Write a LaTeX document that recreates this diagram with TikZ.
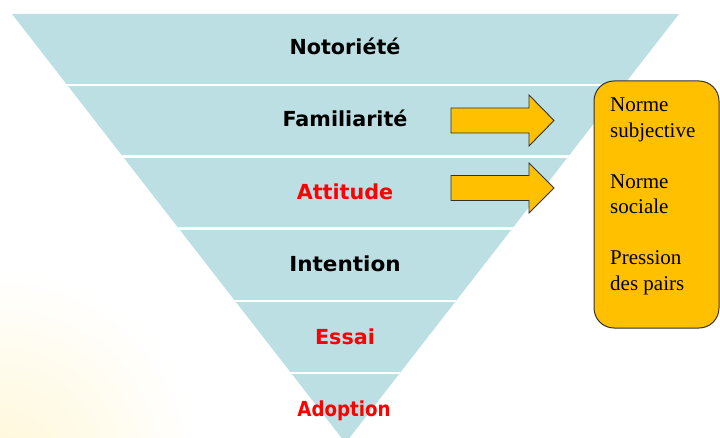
\documentclass[tikz,border=0pt]{standalone}
\usepackage{fontspec}
\setmainfont{Liberation Serif}
\newfontfamily\lblfont{DejaVu Sans}
\definecolor{funnel}{RGB}{187,223,227}
\definecolor{amber}{RGB}{255,192,0}
\definecolor{edge}{RGB}{50,50,50}
\definecolor{bgyellow}{RGB}{255,247,215}
\definecolor{hotred}{RGB}{255,0,0}
\begin{document}
\begin{tikzpicture}[x=1pt,y=-1pt,
  lvl/.style={font=\lblfont\bfseries\fontsize{20.7}{24}\selectfont, anchor=base, inner sep=0pt},
  redlvl/.style={lvl, text=hotred},
  sepline/.style={white, line width=2.5pt},
  barrow/.style={fill=amber, draw=edge, line width=0.9pt, line join=miter},
  normbox/.style={draw=edge, fill=amber, line width=1pt, rounded corners=20pt, anchor=north west, inner sep=0pt},
  normtext/.style={font=\fontsize{21}{25}\selectfont, anchor=base west, inner sep=0pt}
]
\useasboundingbox (0,0) rectangle (720,438);
\fill[white] (0,0) rectangle (720,438);
\begin{scope}
  \clip (0,0) rectangle (720,438);
  \shade[inner color=bgyellow, outer color=white] (0,470) circle (200);
  \fill[funnel] (12,14) -- (679,14) -- (345.5,443) -- cycle;
  \clip (12,14) -- (679,14) -- (345.5,443) -- cycle;
  \foreach \yy in {85,156.5,228.5,301,373}
    \draw[sepline] (0,\yy) -- (720,\yy);
\end{scope}

\node[lvl] (notoriete) at (345,55) {Notoriété};
\node[lvl] (familiarite) at (345,127) {Familiarité};
\node[redlvl] (attitude) at (345,200) {Attitude};
\node[lvl] (intention) at (345,272) {\scalebox{1.04}[1]{Intention}};
\node[redlvl] (essai) at (345,344) {Essai};
\node[redlvl] (adoption) at (344,416) {\scalebox{0.88}[1]{Adoption}};

\draw[barrow] (451,108) -- (529,108) -- (529,95) -- (554,120.5) -- (529,146) -- (529,133) -- (451,133) -- cycle;
\draw[barrow] (451,175.5) -- (529,175.5) -- (529,163) -- (554,188) -- (529,213) -- (529,200.5) -- (451,200.5) -- cycle;

\node[normbox, minimum width=125pt, minimum height=247pt] (box) at (593.5,80.5) {};
\node[normtext] (n1) at (610,112) {Norme};
\node[normtext] (n2) at (610,137.5) {subjective};
\node[normtext] (n3) at (610,188.5) {Norme};
\node[normtext] (n4) at (610,214) {sociale};
\node[normtext] (n5) at (610,265) {Pression};
\node[normtext] (n6) at (610,290.5) {des pairs};
\end{tikzpicture}
\end{document}
